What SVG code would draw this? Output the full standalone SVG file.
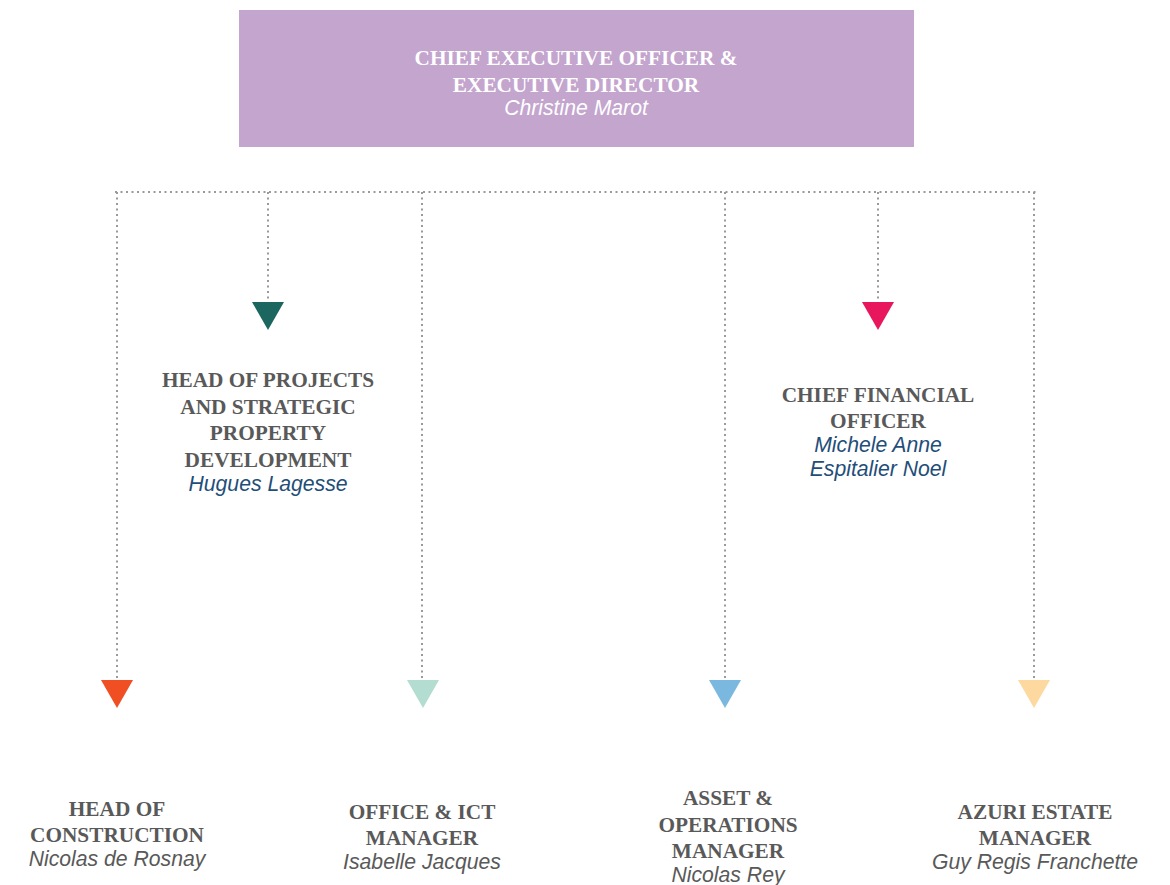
<svg xmlns="http://www.w3.org/2000/svg" width="1170" height="885" viewBox="0 0 1170 885">
  <style>
    .title { font-family: "Liberation Serif", "Times New Roman", serif; font-weight: bold; font-size: 21.3px; fill: #595959; text-anchor: middle; }
    .name { font-family: "Liberation Sans", Arial, sans-serif; font-style: italic; font-size: 21.2px; fill: #595959; text-anchor: middle; }
    .blue { fill: #1F4E79; }
    .white { fill: #ffffff; }
    .dot { fill: none; stroke: #9a9a9a; stroke-width: 2; stroke-dasharray: 2 3.5; }
  </style>
  <rect width="1170" height="885" fill="#ffffff"/>

  <!-- connectors -->
  <g id="connectors">
    <line class="dot" x1="115" y1="192" x2="1036" y2="192"/>
    <line class="dot" x1="117" y1="192" x2="117" y2="680"/>
    <line class="dot" x1="268" y1="192" x2="268" y2="302"/>
    <line class="dot" x1="422" y1="192" x2="422" y2="680"/>
    <line class="dot" x1="725" y1="192" x2="725" y2="680"/>
    <line class="dot" x1="878" y1="192" x2="878" y2="302"/>
    <line class="dot" x1="1034" y1="192" x2="1034" y2="680"/>
    <polygon points="252,302 284,302 268,330" fill="#1B665F"/>
    <polygon points="862,302 894,302 878,330" fill="#E8175D"/>
    <polygon points="101,680 133,680 117,708" fill="#F04E23"/>
    <polygon points="407,680 439,680 423,708" fill="#B3DDD1"/>
    <polygon points="709,680 741,680 725,708" fill="#7BB8E0"/>
    <polygon points="1018,680 1050,680 1034,708" fill="#FDD9A0"/>
  </g>

  <!-- chief executive -->
  <g id="ceo">
    <rect x="239" y="10" width="675" height="137" fill="#C3A5CE"/>
    <text class="title white" x="576" y="65">CHIEF EXECUTIVE OFFICER &amp;</text>
    <text class="title white" x="576" y="92">EXECUTIVE DIRECTOR</text>
    <text class="name white" x="576" y="115">Christine Marot</text>
  </g>

  <g id="head-projects">
    <text class="title" x="268" y="387">HEAD OF PROJECTS</text>
    <text class="title" x="268" y="414">AND STRATEGIC</text>
    <text class="title" x="268" y="440">PROPERTY</text>
    <text class="title" x="268" y="467">DEVELOPMENT</text>
    <text class="name blue" x="268" y="491">Hugues Lagesse</text>
  </g>

  <g id="cfo">
    <text class="title" x="878" y="402">CHIEF FINANCIAL</text>
    <text class="title" x="878" y="428">OFFICER</text>
    <text class="name blue" x="878" y="452">Michele Anne</text>
    <text class="name blue" x="878" y="476">Espitalier Noel</text>
  </g>

  <g id="head-construction">
    <text class="title" x="117" y="816">HEAD OF</text>
    <text class="title" x="117" y="842">CONSTRUCTION</text>
    <text class="name" x="117" y="866">Nicolas de Rosnay</text>
  </g>

  <g id="office-ict">
    <text class="title" x="422" y="819">OFFICE &amp; ICT</text>
    <text class="title" x="422" y="845">MANAGER</text>
    <text class="name" x="422" y="869">Isabelle Jacques</text>
  </g>

  <g id="asset-operations">
    <text class="title" x="728" y="805">ASSET &amp;</text>
    <text class="title" x="728" y="832">OPERATIONS</text>
    <text class="title" x="728" y="858">MANAGER</text>
    <text class="name" x="728" y="882">Nicolas Rey</text>
  </g>

  <g id="azuri-estate">
    <text class="title" x="1035" y="819">AZURI ESTATE</text>
    <text class="title" x="1035" y="845">MANAGER</text>
    <text class="name" x="1035" y="869">Guy Regis Franchette</text>
  </g>
</svg>
